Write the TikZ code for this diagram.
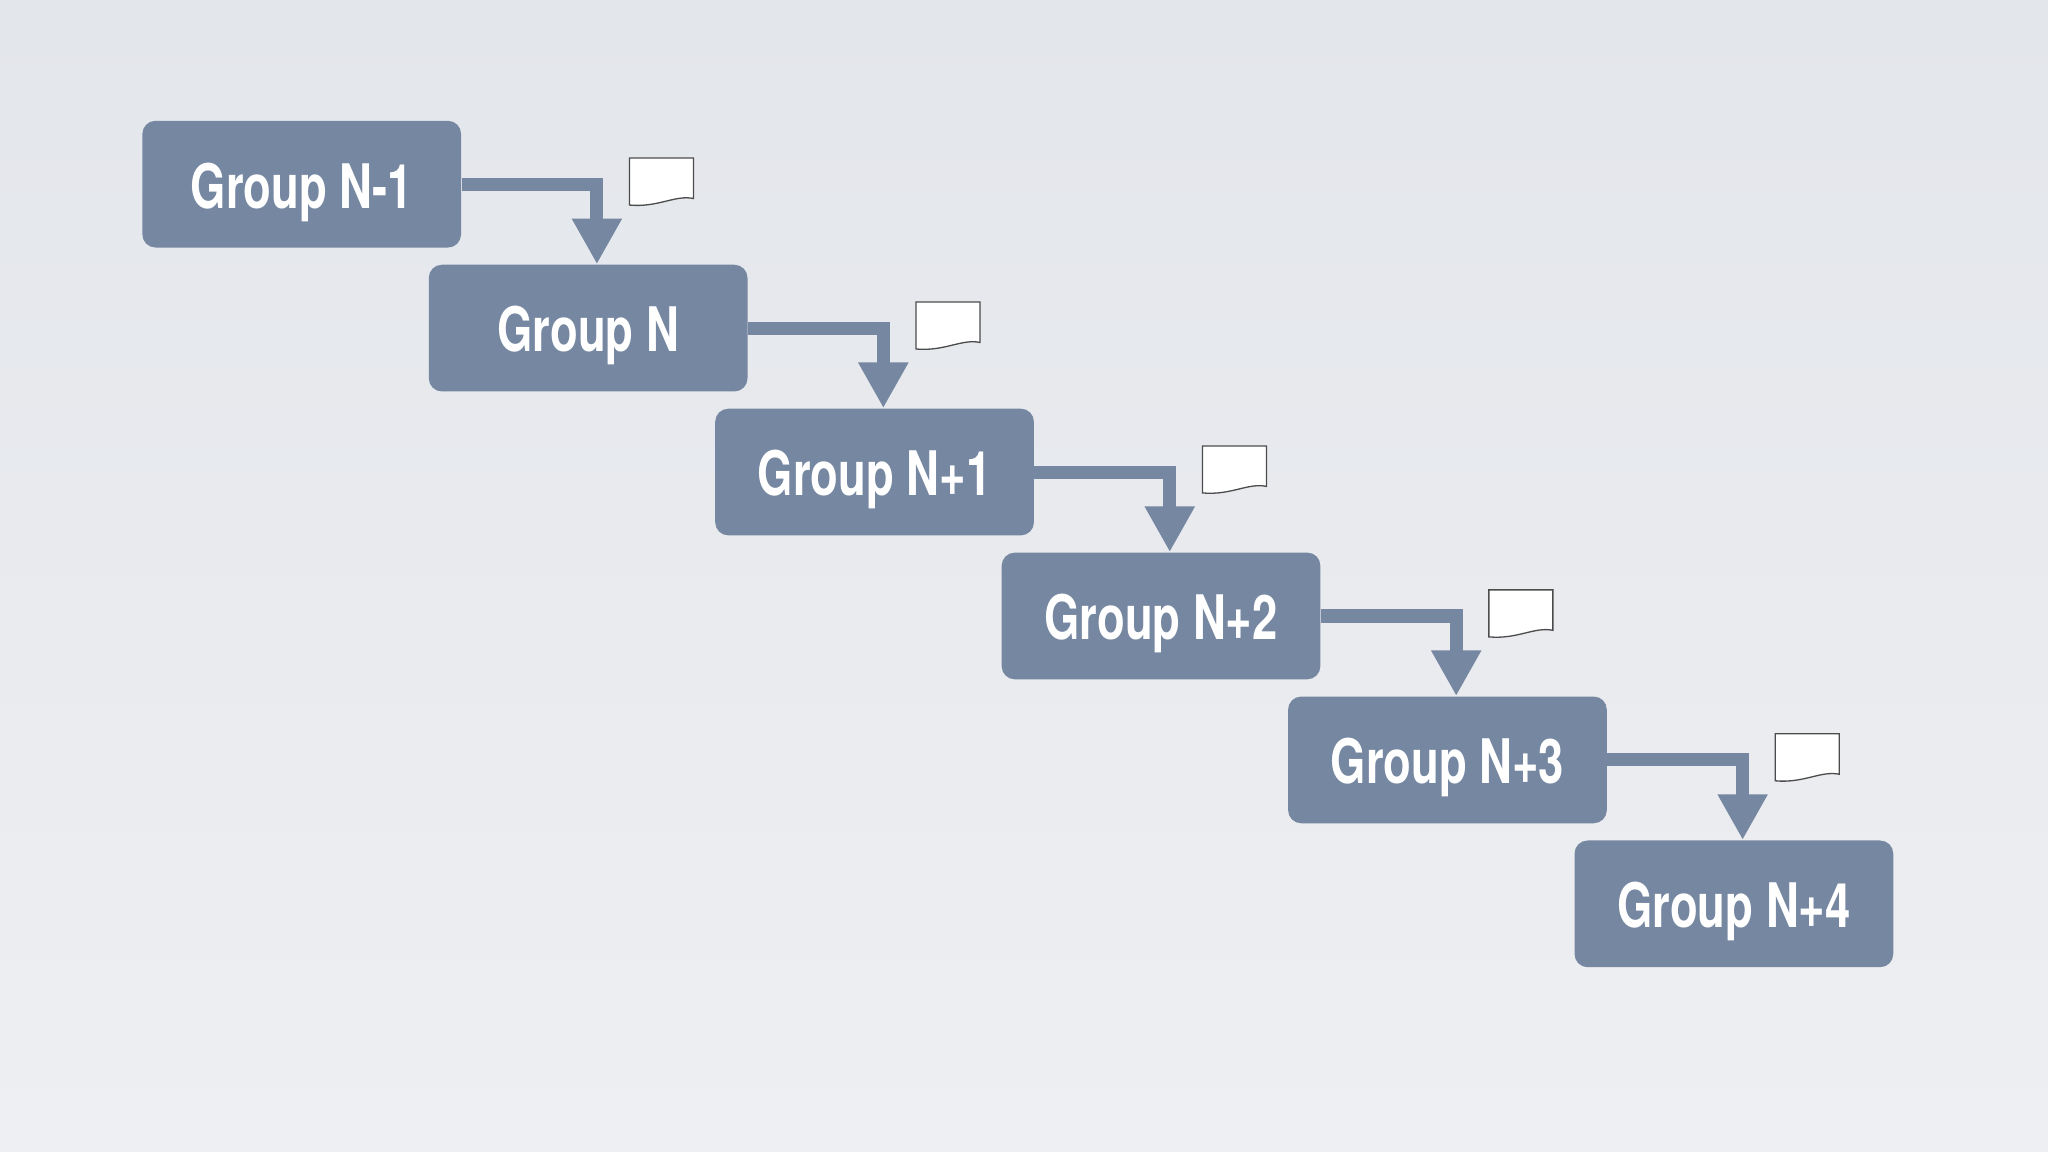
\documentclass[tikz,border=0pt]{standalone}
\usepackage{fontspec}
\setmainfont{TeX Gyre Heros}[FakeStretch=0.74]
\usetikzlibrary{arrows.meta}
\definecolor{boxc}{HTML}{7687A1}
\definecolor{bgtop}{HTML}{E3E6EB}
\definecolor{bgbot}{HTML}{EEEFF2}
\tikzset{
  grp/.style={fill=boxc, rounded corners=5pt, minimum width=122pt, minimum height=48.5pt, inner sep=0pt, text=white, font=\bfseries\fontsize{23.5}{26}\selectfont},
  flow/.style={draw=boxc, line width=5pt, -{Triangle[length=17.5pt,width=18pt]}},
  doc/.style={fill=white, draw=black!70, line width=0.5pt}
}
\begin{document}
\begin{tikzpicture}[x=0.5pt,y=-0.5pt]
\useasboundingbox (0,0) rectangle (1568,882);
\shade[top color=bgtop, bottom color=bgbot] (0,0) rectangle (1568,882);
\foreach \i/\t in {0/Group N-1,1/Group N,2/Group N+1,3/Group N+2,4/Group N+3,5/Group N+4}{
  \node[grp] (g\i) at ({231+219.3*\i},{141+110.2*\i}) {};
  \node[text=white, font=\bfseries\fontsize{23.5}{26}\selectfont, inner sep=0pt] (t\i) at ([yshift=-3pt]g\i.center) {\t};
}
\foreach \i in {0,...,4}{
  \pgfmathtruncatemacro{\j}{\i+1}
  \coordinate (b\i) at ({457+219.3*\i},{141+110.2*\i});
  \draw[flow] (g\i.east) -- (b\i) -- (b\i |- g\j.north);
  \begin{scope}[shift={({482+219.3*\i},{121+110.2*\i})}]
    \path[doc] (0,0) -- (49,0) -- (49,31) .. controls (35,28) and (22,38) .. (0,36) -- cycle;
  \end{scope}
}
\end{tikzpicture}
\end{document}
